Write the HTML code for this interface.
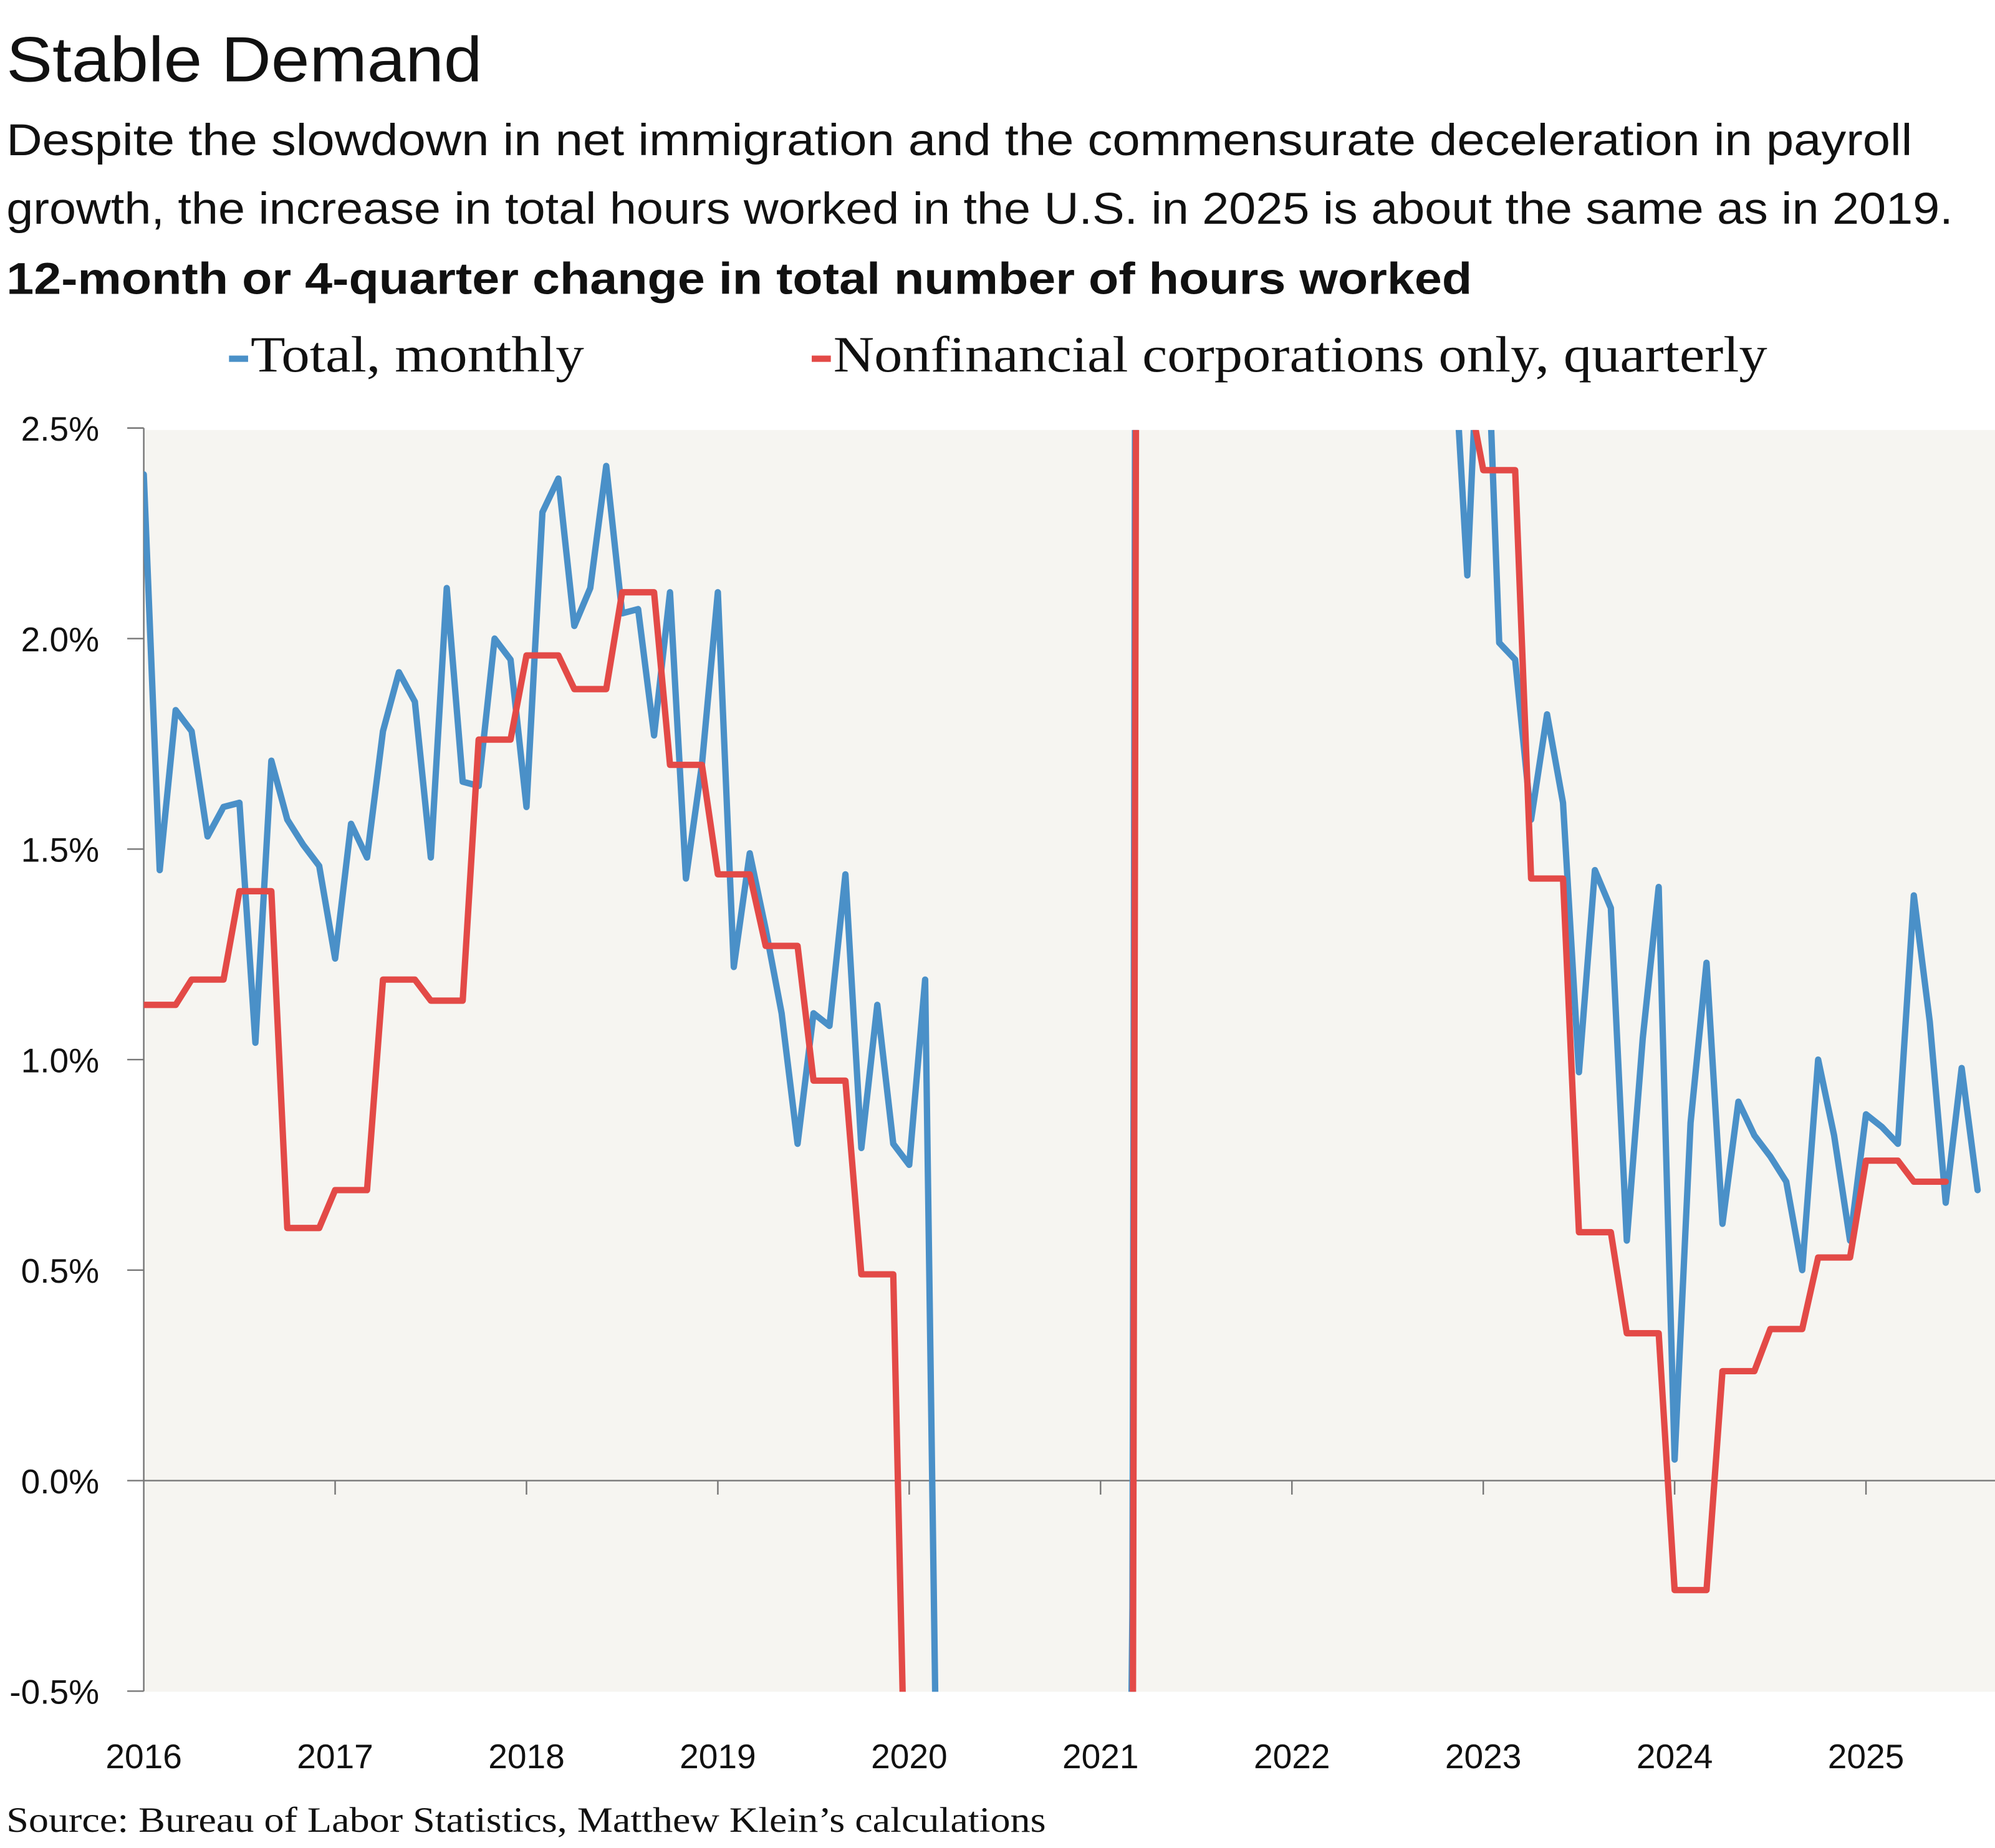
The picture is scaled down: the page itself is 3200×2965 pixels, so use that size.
<!DOCTYPE html>
<html><head><meta charset="utf-8"><title>Stable Demand</title>
<style>
html,body{margin:0;padding:0;background:#fff;overflow:hidden;width:3200px;height:2965px;}
svg{display:block;}
</style></head>
<body>
<svg id="chart" width="3200" height="2965" viewBox="0 0 1568 1452.8" xmlns="http://www.w3.org/2000/svg">
  <text x="5" y="64" font-family="Liberation Sans, sans-serif" font-size="50" fill="#111" textLength="374" lengthAdjust="spacingAndGlyphs">Stable Demand</text>
  <text x="5" y="122" font-family="Liberation Sans, sans-serif" font-size="35" fill="#111" textLength="1498" lengthAdjust="spacingAndGlyphs">Despite the slowdown in net immigration and the commensurate deceleration in payroll</text>
  <text x="5" y="176" font-family="Liberation Sans, sans-serif" font-size="35" fill="#111" textLength="1530" lengthAdjust="spacingAndGlyphs">growth, the increase in total hours worked in the U.S. in 2025 is about the same as in 2019.</text>
  <text x="5" y="231" font-family="Liberation Sans, sans-serif" font-size="35" font-weight="bold" fill="#111" textLength="1152" lengthAdjust="spacingAndGlyphs">12-month or 4-quarter change in total number of hours worked</text>
  <g>
    <g>
      <line x1="180" y1="282" x2="195" y2="282" stroke="#4a90c8" stroke-width="5"/>
      <text x="197" y="292" font-family="Liberation Serif, serif" font-size="40" fill="#111" textLength="262" lengthAdjust="spacingAndGlyphs">Total, monthly</text>
    </g>
    <g>
      <line x1="638" y1="282" x2="653" y2="282" stroke="#e34a47" stroke-width="5"/>
      <text x="655" y="292" font-family="Liberation Serif, serif" font-size="40" fill="#111" textLength="734" lengthAdjust="spacingAndGlyphs">Nonfinancial corporations only, quarterly</text>
    </g>
  </g>
  <defs><clipPath id="plotclip"><rect x="113" y="338" width="1455" height="992"/></clipPath></defs>
  <rect x="113" y="338" width="1455" height="992" fill="#f6f5f1"/>
  <g id="axes"></g>
  <g id="series" clip-path="url(#plotclip)"></g>
  <text x="5" y="1440" font-family="Liberation Serif, serif" font-size="28" fill="#111" textLength="817" lengthAdjust="spacingAndGlyphs">Source: Bureau of Labor Statistics, Matthew Klein’s calculations</text>
</svg>
<script>
const yTicks = [2.5, 2.0, 1.5, 1.0, 0.5, 0.0, -0.5];
const yTickLabels = ["2.5%", "2.0%", "1.5%", "1.0%", "0.5%", "0.0%", "-0.5%"];
const xYears = [2016, 2017, 2018, 2019, 2020, 2021, 2022, 2023, 2024, 2025];
const totalMonthly = [
  2.39,1.45,1.83,1.78,1.53,1.60,1.61,1.04,1.71,1.57,1.51,1.46,
  1.24,1.56,1.48,1.78,1.92,1.85,1.48,2.12,1.66,1.65,2.00,1.95,
  1.60,2.30,2.38,2.03,2.12,2.41,2.06,2.07,1.77,2.11,1.43,1.70,
  2.11,1.22,1.49,1.31,1.11,0.80,1.11,1.08,1.44,0.79,1.13,0.80,
  0.75,1.19,-1.5,-15,-12,-9,-7,-6,-5,-5,-5,-4.5,
  -4.5,-4,-0.3,17,14,11,8,7,6,6,5.5,5.5,
  5,5,4.5,4,3.5,3.5,3.5,3,3,3,2.8,2.15,
  3.0,1.99,1.95,1.57,1.82,1.61,0.97,1.45,1.36,0.57,1.05,1.41,
  0.05,0.85,1.23,0.61,0.90,0.82,0.77,0.71,0.50,1.00,0.82,0.57,
  0.87,0.84,0.80,1.39,1.09,0.66,0.98,0.69
];
const nonfinQuarterly = [
  1.13,1.19,1.40,0.60, 0.69,1.19,1.14,1.76, 1.96,1.88,2.11,1.70, 1.44,1.27,0.95,0.49,
  -1.2,-13,-6,-4, -1,15,7,5.5, 5,4,3.5,2.6,
  2.40,1.43,0.59,0.35, -0.26,0.26,0.36,0.53, 0.76,0.71
];
const startYear = 2016;

const NS = "http://www.w3.org/2000/svg";
const X0 = 113, PER_YEAR = 150.4, Y0 = 1164, PER_PCT = 331;
function xScale(monthIndex){ return X0 + monthIndex * PER_YEAR / 12; }
function yScale(v){ return Y0 - v * PER_PCT; }
function mk(tag, attrs){ const e = document.createElementNS(NS, tag); for (const k in attrs) e.setAttribute(k, attrs[k]); return e; }

const axes = document.getElementById('axes');
const yAxis = mk('line', {x1:X0, y1:yScale(2.5), x2:X0, y2:yScale(-0.5), stroke:'#777', 'stroke-width':1.2});


axes.appendChild(yAxis);
const zl = mk('line', {x1:X0, y1:yScale(0), x2:1568, y2:yScale(0), stroke:'#777', 'stroke-width':1.2});


axes.appendChild(zl);

yTicks.forEach((v, i) => {
  const y = yScale(v);
  const t = mk('line', {x1:X0-13, y1:y, x2:X0, y2:y, stroke:'#777', 'stroke-width':1.2});
  
  
  axes.appendChild(t);
  const lb = mk('text', {x:78, y:y+10, 'text-anchor':'end', 'font-family':'Liberation Sans, sans-serif', 'font-size':27, fill:'#111'});
  lb.textContent = yTickLabels[i];
  
  
  axes.appendChild(lb);
});

xYears.forEach(yr => {
  const x = xScale((yr - startYear) * 12);
  if (yr !== startYear) {
    const t = mk('line', {x1:x, y1:yScale(0), x2:x, y2:yScale(0)+11, stroke:'#777', 'stroke-width':1.2});
    
    
    axes.appendChild(t);
  }
  const lb = mk('text', {x:x, y:1390, 'text-anchor':'middle', 'font-family':'Liberation Sans, sans-serif', 'font-size':27, fill:'#111'});
  lb.textContent = String(yr);
  
  
  axes.appendChild(lb);
});

const series = document.getElementById('series');
function pathFrom(vals){ return vals.map((v,i)=> (i?'L':'M') + xScale(i).toFixed(2) + ' ' + yScale(v).toFixed(2)).join(' '); }

const blue = mk('path', {d:pathFrom(totalMonthly), fill:'none', stroke:'#4a90c8', 'stroke-width':5, 'stroke-linejoin':'round', 'stroke-linecap':'round'});


series.appendChild(blue);

const redMonthly = [];
nonfinQuarterly.forEach(v => { redMonthly.push(v, v, v); });
const red = mk('path', {d:pathFrom(redMonthly), fill:'none', stroke:'#e34a47', 'stroke-width':5, 'stroke-linejoin':'round', 'stroke-linecap':'round'});


series.appendChild(red);
</script>
</body></html>
